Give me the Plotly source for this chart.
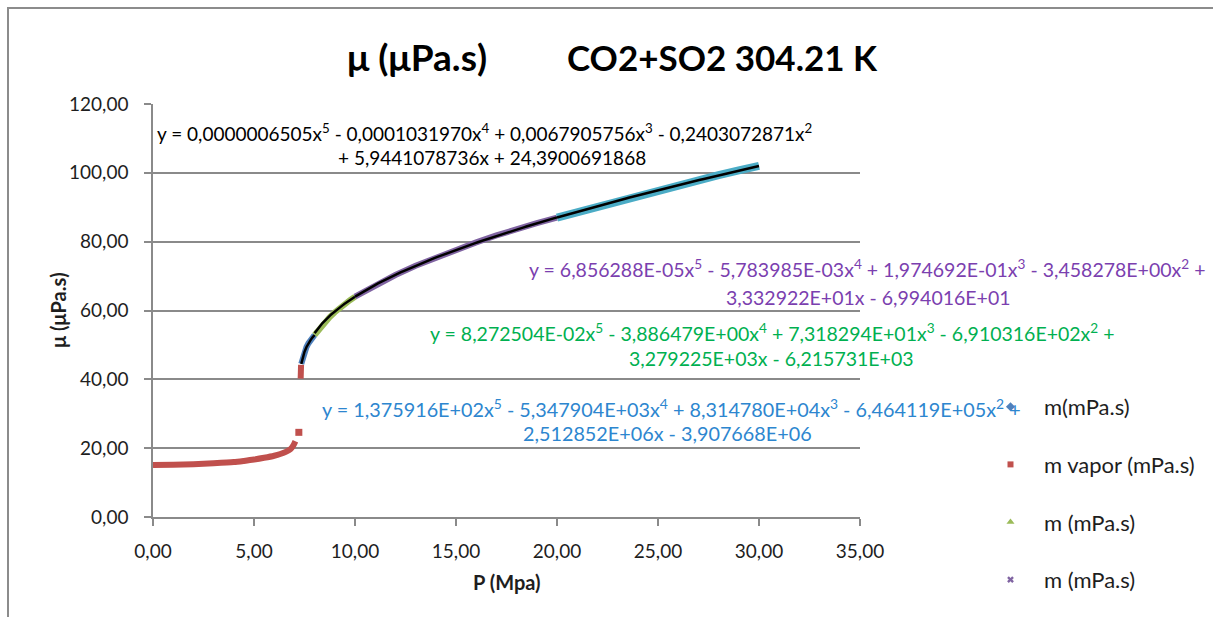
import numpy as np
import plotly.graph_objects as go

# ---------------------------------------------------------------- data
# vapour branch (red series) and its two jumps
p_vapor = [0.0, 1.0, 2.0, 3.0, 4.0, 4.5, 5.0, 5.5, 6.0, 6.3, 6.6, 6.8, 6.95, 7.05]
mu_vapor = [15.1, 15.2, 15.35, 15.6, 15.95, 16.3, 16.7, 17.2, 17.8, 18.3, 19.0, 19.7, 20.8, 22.0]
p_vapor_jump = [7.22]
mu_vapor_jump = [24.6]
p_vapor_liq = [7.31, 7.32, 7.33]
mu_vapor_liq = [40.2, 42.2, 44.2]

# dense-phase branches
p_liq1 = [7.34, 7.42, 7.5, 7.6, 7.7, 7.8, 7.9, 8.0]
mu_liq1 = [44.5, 46.5, 48.0, 49.4, 50.5, 51.4, 52.2, 52.9]
p_liq2 = [8.0, 8.25, 8.5, 8.75, 9.0, 9.25, 9.5, 9.75, 10.0]
mu_liq2 = [52.9, 54.8, 56.6, 58.1, 59.5, 60.8, 62.0, 63.0, 64.0]
p_liq3 = [10.0, 11.0, 12.0, 13.0, 14.0, 15.0, 16.0, 17.0, 18.0, 19.0, 20.0]
mu_liq3 = [64.0, 67.3, 70.3, 73.0, 75.4, 77.6, 79.8, 81.8, 83.7, 85.4, 87.0]
p_liq4 = [20.0, 21.0, 22.0, 23.0, 24.0, 25.0, 26.0, 27.0, 28.0, 29.0, 30.0]
mu_liq4 = [87.0, 88.6, 90.3, 91.9, 93.4, 94.9, 96.4, 97.9, 99.3, 100.7, 102.0]

# 5th-order polynomial trend lines (highest power first)
coef_liq1 = [1.375916e+02, -5.347904e+03, 8.314780e+04, -6.464119e+05, 2.512852e+06, -3.907668e+06]
coef_liq2 = [8.272504e-02, -3.886479e+00, 7.318294e+01, -6.910316e+02, 3.279225e+03, -6.215731e+03]
coef_liq3 = [6.856288e-05, -5.783985e-03, 1.974692e-01, -3.458278e+00, 3.332922e+01, -6.994016e+01]
coef_liq4 = [0.0000006505, -0.0001031970, 0.0067905756, -0.2403072871, 5.9441078736, 24.3900691868]

x_ticks = [0, 5, 10, 15, 20, 25, 30, 35]
x_tick_text = ["0,00", "5,00", "10,00", "15,00", "20,00", "25,00", "30,00", "35,00"]
y_ticks = [0, 20, 40, 60, 80, 100, 120]
y_tick_text = ["0,00", "20,00", "40,00", "60,00", "80,00", "100,00", "120,00"]

legend_names = ["m(mPa.s)", "m vapor (mPa.s)", "m (mPa.s)", "m (mPa.s)"]

# ---------------------------------------------------------------- style
BLUE = "#4F81BD"
RED = "#C0504D"
GREEN = "#9BBB59"
PURPLE = "#8064A2"
CYAN = "#4BACC6"
GRID = "#8A8A8A"
TXT = "#1E1E1E"
FONT = "Lato"

W, H = 1213, 617
L, R, T, B = 153, 860, 104, 517  # plot area in pixels


def px(x):
    return (x - L) / (R - L)


def py(y):
    return (B - y) / (B - T)


def num(c, style):
    s = f"{abs(c):.6E}" if style == "e" else f"{abs(c):.10f}"
    return s.replace(".", ",")


def terms(coef, style):
    out = []
    for i, c in enumerate(coef):
        power = len(coef) - 1 - i
        t = num(c, style)
        if power > 1:
            t += f"x<sup>{power}</sup>"
        elif power == 1:
            t += "x"
        out.append(("-" if c < 0 else "+", t))
    return out


def eq_lines(coef, style, sign_on_first):
    tt = terms(coef, style)
    first = "y = " + tt[0][1]
    for s, t in tt[1:4]:
        first += f" {s} {t}"
    if sign_on_first:
        first += f" {tt[4][0]}"
        second = tt[4][1]
    else:
        second = f"{tt[4][0]} {tt[4][1]}"
    second += f" {tt[5][0]} {tt[5][1]}"
    return first, second


fig = go.Figure()

# data series drawn as thick bands (dense markers)
fig.add_trace(go.Scatter(x=p_liq1, y=mu_liq1, mode="lines",
                         line=dict(color=BLUE, width=6), showlegend=False))
fig.add_trace(go.Scatter(x=p_vapor + [None] + p_vapor_liq, y=mu_vapor + [None] + mu_vapor_liq,
                         mode="lines", line=dict(color=RED, width=6, shape="spline", smoothing=0.6),
                         showlegend=False))
fig.add_trace(go.Scatter(x=p_vapor_jump, y=mu_vapor_jump, mode="markers",
                         marker=dict(color=RED, symbol="square", size=7), showlegend=False))
fig.add_trace(go.Scatter(x=p_liq2, y=mu_liq2, mode="lines",
                         line=dict(color=GREEN, width=6), showlegend=False))
fig.add_trace(go.Scatter(x=p_liq3, y=mu_liq3, mode="lines",
                         line=dict(color=PURPLE, width=6), showlegend=False))
fig.add_trace(go.Scatter(x=p_liq4, y=mu_liq4, mode="lines",
                         line=dict(color=CYAN, width=8), showlegend=False))

# trend lines: the low-pressure fit's rounded coefficients cancel badly,
# so that segment follows its points; the others use the printed fits
fig.add_trace(go.Scatter(x=p_liq1, y=mu_liq1, mode="lines",
                         line=dict(color="black", width=2.5), showlegend=False))
for pts, coef in ((p_liq2, coef_liq2), (p_liq3, coef_liq3), (p_liq4, coef_liq4)):
    xs = np.linspace(pts[0], pts[-1], 80)
    fig.add_trace(go.Scatter(x=xs, y=np.polyval(coef, xs), mode="lines",
                             line=dict(color="black", width=2.5), showlegend=False))

# legend entries
for name, color, sym, size in zip(legend_names, [BLUE, RED, GREEN, PURPLE],
                                   ["diamond", "square", "triangle-up", "x"], [7, 6, 7, 6]):
    fig.add_trace(go.Scatter(x=[None], y=[None], mode="markers", name=name,
                             legendgroup=name + color,
                             marker=dict(color=color, symbol=sym, size=size, line=dict(width=0))))

ann = []
# title
ann.append(dict(x=px(417), y=py(57), text="<b>μ (μPa.s)</b>", font=dict(size=37, color="black")))
ann.append(dict(x=px(722), y=py(57), text="<b>CO2+SO2 304.21 K</b>", font=dict(size=35, color="black")))

# trend-line equations
eqs = [
    (coef_liq4, "f", False, "black", 484, 132, 492, 157, 19),
    (coef_liq3, "e", True, "#7B3FAF", 867, 268, 868, 297, 19.5),
    (coef_liq2, "e", True, "#00B050", 772, 332, 771, 358, 19.5),
    (coef_liq1, "e", True, "#2D86CF", 671, 408, 667, 433, 19.8),
]
for coef, style, sign_first, color, x1, y1, x2, y2, fs in eqs:
    l1, l2 = eq_lines(coef, style, sign_first)
    ann.append(dict(x=px(x1), y=py(y1), text=l1, font=dict(size=fs, color=color)))
    ann.append(dict(x=px(x2), y=py(y2), text=l2, font=dict(size=fs, color=color)))

# axis titles
ann.append(dict(x=px(507), y=py(582), text="<b>P (Mpa)</b>", font=dict(size=20, color=TXT)))
ann.append(dict(x=px(58), y=py(310), text="<b>μ (μPa.s)</b>", textangle=-90,
                font=dict(size=20, color=TXT)))

for a in ann:
    a.update(xref="paper", yref="paper", showarrow=False, xanchor="center", yanchor="middle")

fig.update_layout(
    width=W, height=H,
    margin=dict(l=L, r=W - R, t=T, b=H - B, pad=0, autoexpand=False),
    paper_bgcolor="white", plot_bgcolor="white",
    font=dict(family=FONT, size=19, color=TXT),
    annotations=ann,
    showlegend=True,
    legend=dict(xref="container", yref="container", x=977 / W, y=1 - 386 / H,
                xanchor="left", yanchor="top",
                font=dict(size=22, color=TXT), tracegroupgap=26, itemwidth=57,
                bgcolor="rgba(0,0,0,0)"),
    shapes=[dict(type="rect", xref="paper", yref="paper",
                 x0=px(8), y0=py(660), x1=px(1300), y1=py(8),
                 line=dict(color="#8C8C8C", width=2))],
)

fig.update_xaxes(range=[0, 35], tickvals=x_ticks, ticktext=x_tick_text,
                 showgrid=False, zeroline=False, showline=True, linecolor=GRID, linewidth=1.5,
                 ticks="outside", ticklen=7, tickcolor=GRID, tickwidth=1.5,
                 tickfont=dict(family=FONT, size=19, color=TXT), ticklabelstandoff=9)
fig.update_yaxes(range=[0, 120], tickvals=y_ticks, ticktext=y_tick_text,
                 showgrid=True, gridcolor=GRID, gridwidth=1.5, zeroline=False,
                 showline=True, linecolor=GRID, linewidth=1.5,
                 ticks="outside", ticklen=7, tickcolor=GRID, tickwidth=1.5,
                 tickfont=dict(family=FONT, size=19, color=TXT), ticklabelstandoff=12)

fig.write_html("out.html")
